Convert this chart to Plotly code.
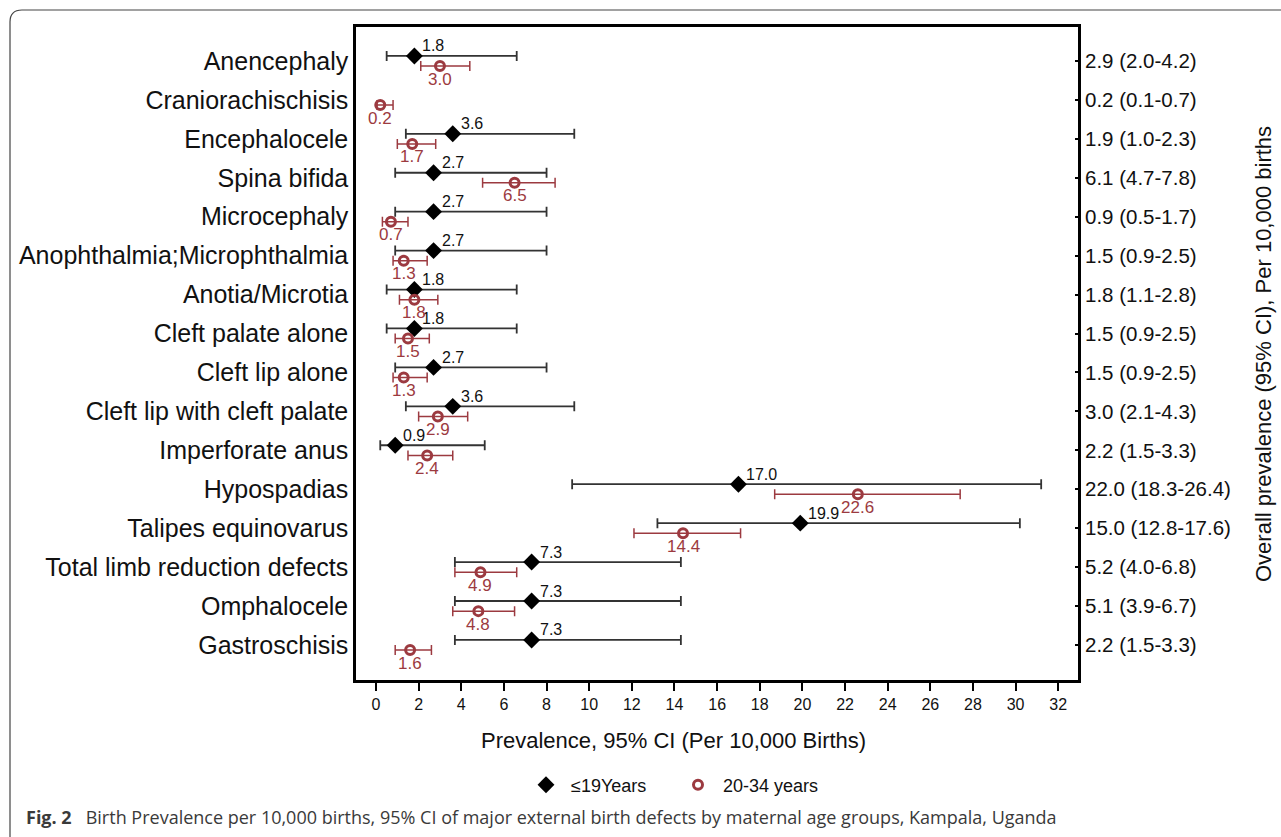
import plotly.graph_objects as go

# ---------------- data ----------------
defects = ["Anencephaly", "Craniorachischisis", "Encephalocele", "Spina bifida",
           "Microcephaly", "Anophthalmia;Microphthalmia", "Anotia/Microtia",
           "Cleft palate alone", "Cleft lip alone", "Cleft lip with cleft palate",
           "Imperforate anus", "Hypospadias", "Talipes equinovarus",
           "Total limb reduction defects", "Omphalocele", "Gastroschisis"]

young_est = [1.8, None, 3.6, 2.7, 2.7, 2.7, 1.8, 1.8, 2.7, 3.6, 0.9, 17.0, 19.9, 7.3, 7.3, 7.3]
young_lo = [0.5, None, 1.4, 0.9, 0.9, 0.9, 0.5, 0.5, 0.9, 1.4, 0.2, 9.2, 13.2, 3.7, 3.7, 3.7]
young_hi = [6.6, None, 9.3, 8.0, 8.0, 8.0, 6.6, 6.6, 8.0, 9.3, 5.1, 31.2, 30.2, 14.3, 14.3, 14.3]

adult_est = [3.0, 0.2, 1.7, 6.5, 0.7, 1.3, 1.8, 1.5, 1.3, 2.9, 2.4, 22.6, 14.4, 4.9, 4.8, 1.6]
adult_lo = [2.1, 0.05, 1.0, 5.0, 0.3, 0.8, 1.1, 0.9, 0.8, 2.0, 1.5, 18.7, 12.1, 3.7, 3.6, 0.9]
adult_hi = [4.4, 0.8, 2.8, 8.4, 1.5, 2.4, 2.9, 2.5, 2.4, 4.3, 3.6, 27.4, 17.1, 6.6, 6.5, 2.6]

overall_est = [2.9, 0.2, 1.9, 6.1, 0.9, 1.5, 1.8, 1.5, 1.5, 3.0, 2.2, 22.0, 15.0, 5.2, 5.1, 2.2]
overall_lo = [2.0, 0.1, 1.0, 4.7, 0.5, 0.9, 1.1, 0.9, 0.9, 2.1, 1.5, 18.3, 12.8, 4.0, 3.9, 1.5]
overall_hi = [4.2, 0.7, 2.3, 7.8, 1.7, 2.5, 2.8, 2.5, 2.5, 4.3, 3.3, 26.4, 17.6, 6.8, 6.7, 3.3]

x_ticks = list(range(0, 33, 2))
series_names = ["\u226419Years", "20-34 years"]

# ---------------- style ----------------
RED = "#9c3a40"
FONT = "Liberation Sans, Arial, sans-serif"
W, H = 1281, 837
L, R, T, B = 356, 1078, 27, 680
OFF = 0.13


def px2x(px):
    return (px - L) / (R - L)


def px2y(py):
    return (B - py) / (B - T)


rows = list(range(len(defects)))

fig = go.Figure()

# <=19 years
yi = [i for i in rows if young_est[i] is not None]
fig.add_trace(go.Scatter(
    x=[young_est[i] for i in yi],
    y=[i - OFF for i in yi],
    mode="markers",
    name=series_names[0],
    marker=dict(symbol="diamond", size=13, color="black"),
    error_x=dict(type="data", symmetric=False,
                 array=[young_hi[i] - young_est[i] for i in yi],
                 arrayminus=[young_est[i] - young_lo[i] for i in yi],
                 color="#333333", thickness=1.8, width=5),
    hoverinfo="skip",
))

# 20-34 years
fig.add_trace(go.Scatter(
    x=adult_est,
    y=[i + OFF for i in rows],
    mode="markers",
    name=series_names[1],
    marker=dict(symbol="circle-open", size=9, color=RED, line=dict(width=3, color=RED)),
    error_x=dict(type="data", symmetric=False,
                 array=[adult_hi[i] - adult_est[i] for i in rows],
                 arrayminus=[adult_est[i] - adult_lo[i] for i in rows],
                 color=RED, thickness=1.5, width=5),
    hoverinfo="skip",
))

# dummy trace for right axis
fig.add_trace(go.Scatter(x=[None] * len(rows), y=rows, yaxis="y2", showlegend=False,
                         mode="markers", hoverinfo="skip"))

annotations = []
for i in yi:
    annotations.append(dict(x=young_est[i], y=i - OFF, xref="x", yref="y",
                            text=f"{young_est[i]:.1f}", showarrow=False,
                            xanchor="left", yanchor="middle", xshift=6, yshift=10,
                            font=dict(family=FONT, size=16, color="#111111")))
for i in rows:
    annotations.append(dict(x=adult_est[i], y=i + OFF, xref="x", yref="y",
                            text=f"{adult_est[i]:.1f}", showarrow=False,
                            xanchor="center", yanchor="middle", yshift=-13,
                            font=dict(family=FONT, size=17, color=RED)))

# axis titles
annotations.append(dict(x=px2x(673), y=px2y(741), xref="paper", yref="paper",
                        text="Prevalence, 95% CI (Per 10,000 Births)", showarrow=False,
                        xanchor="center", yanchor="middle",
                        font=dict(family=FONT, size=22, color="#111111")))
annotations.append(dict(x=px2x(1264), y=px2y(354), xref="paper", yref="paper",
                        text="Overall prevalence (95% CI), Per 10,000 births", showarrow=False,
                        textangle=-90, xanchor="center", yanchor="middle",
                        font=dict(family=FONT, size=22, color="#111111")))
# caption
annotations.append(dict(x=px2x(24), y=px2y(817), xref="paper", yref="paper",
                        text="<b>Fig. 2</b>&nbsp;&nbsp;&nbsp;Birth Prevalence per 10,000 births, 95% CI of major external birth defects by maternal age groups, Kampala, Uganda",
                        showarrow=False, xanchor="left", yanchor="middle",
                        font=dict(family="Open Sans, sans-serif", size=18, color="#3a3a3a")))

# rounded outer frame
x0, y0, rr = 10, 10, 12
path = (f"M {px2x(x0)},{px2y(860)} L {px2x(x0)},{px2y(y0 + rr)} "
        f"Q {px2x(x0)},{px2y(y0)} {px2x(x0 + rr)},{px2y(y0)} L {px2x(1300)},{px2y(y0)}")
shapes = [dict(type="path", xref="paper", yref="paper", path=path,
               line=dict(color="#444444", width=1.2), layer="below")]

right_text = [f"{e:.1f} ({lo:.1f}-{hi:.1f})" for e, lo, hi in zip(overall_est, overall_lo, overall_hi)]

yrange = [15 + (B - 645) / 38.93, -(61 - T) / 38.93]

fig.update_layout(
    width=W, height=H,
    margin=dict(l=L, r=W - R, t=T, b=H - B, pad=0),
    paper_bgcolor="white", plot_bgcolor="white",
    font=dict(family=FONT, color="#111111"),
    showlegend=True,
    legend=dict(orientation="h", x=px2x(521), y=px2y(785), xanchor="left", yanchor="middle",
                font=dict(family=FONT, size=18, color="#111111"), itemwidth=40,
                entrywidth=97, entrywidthmode="pixels", bgcolor="rgba(0,0,0,0)"),
    xaxis=dict(range=[-(376 - L) / 21.32, (R - 376) / 21.32], tickvals=x_ticks,
               ticktext=[str(t) for t in x_ticks],
               showgrid=False, zeroline=False, showline=True, linecolor="black", linewidth=2.5,
               mirror=True, ticks="outside", ticklen=8, tickwidth=1.5, tickcolor="black",
               tickfont=dict(family=FONT, size=16, color="#111111")),
    yaxis=dict(range=yrange, tickvals=rows, ticktext=defects, showgrid=False, zeroline=False,
               showline=True, linecolor="black", linewidth=2.5, mirror=True, ticks="",
               ticklabelstandoff=0, tickfont=dict(family=FONT, size=25, color="#111111")),
    yaxis2=dict(range=yrange, overlaying="y", side="right", tickvals=rows, ticktext=right_text,
                showgrid=False, zeroline=False, showline=False, ticks="inside", ticklen=3,
                tickwidth=1.5, tickcolor="black", ticklabelstandoff=6,
                tickfont=dict(family=FONT, size=20.5, color="#111111")),
    annotations=annotations,
    shapes=shapes,
)

fig.write_html("out.html", config={"displayModeBar": False},
               post_script="document.body.style.margin='0';document.body.style.overflow='hidden';")
